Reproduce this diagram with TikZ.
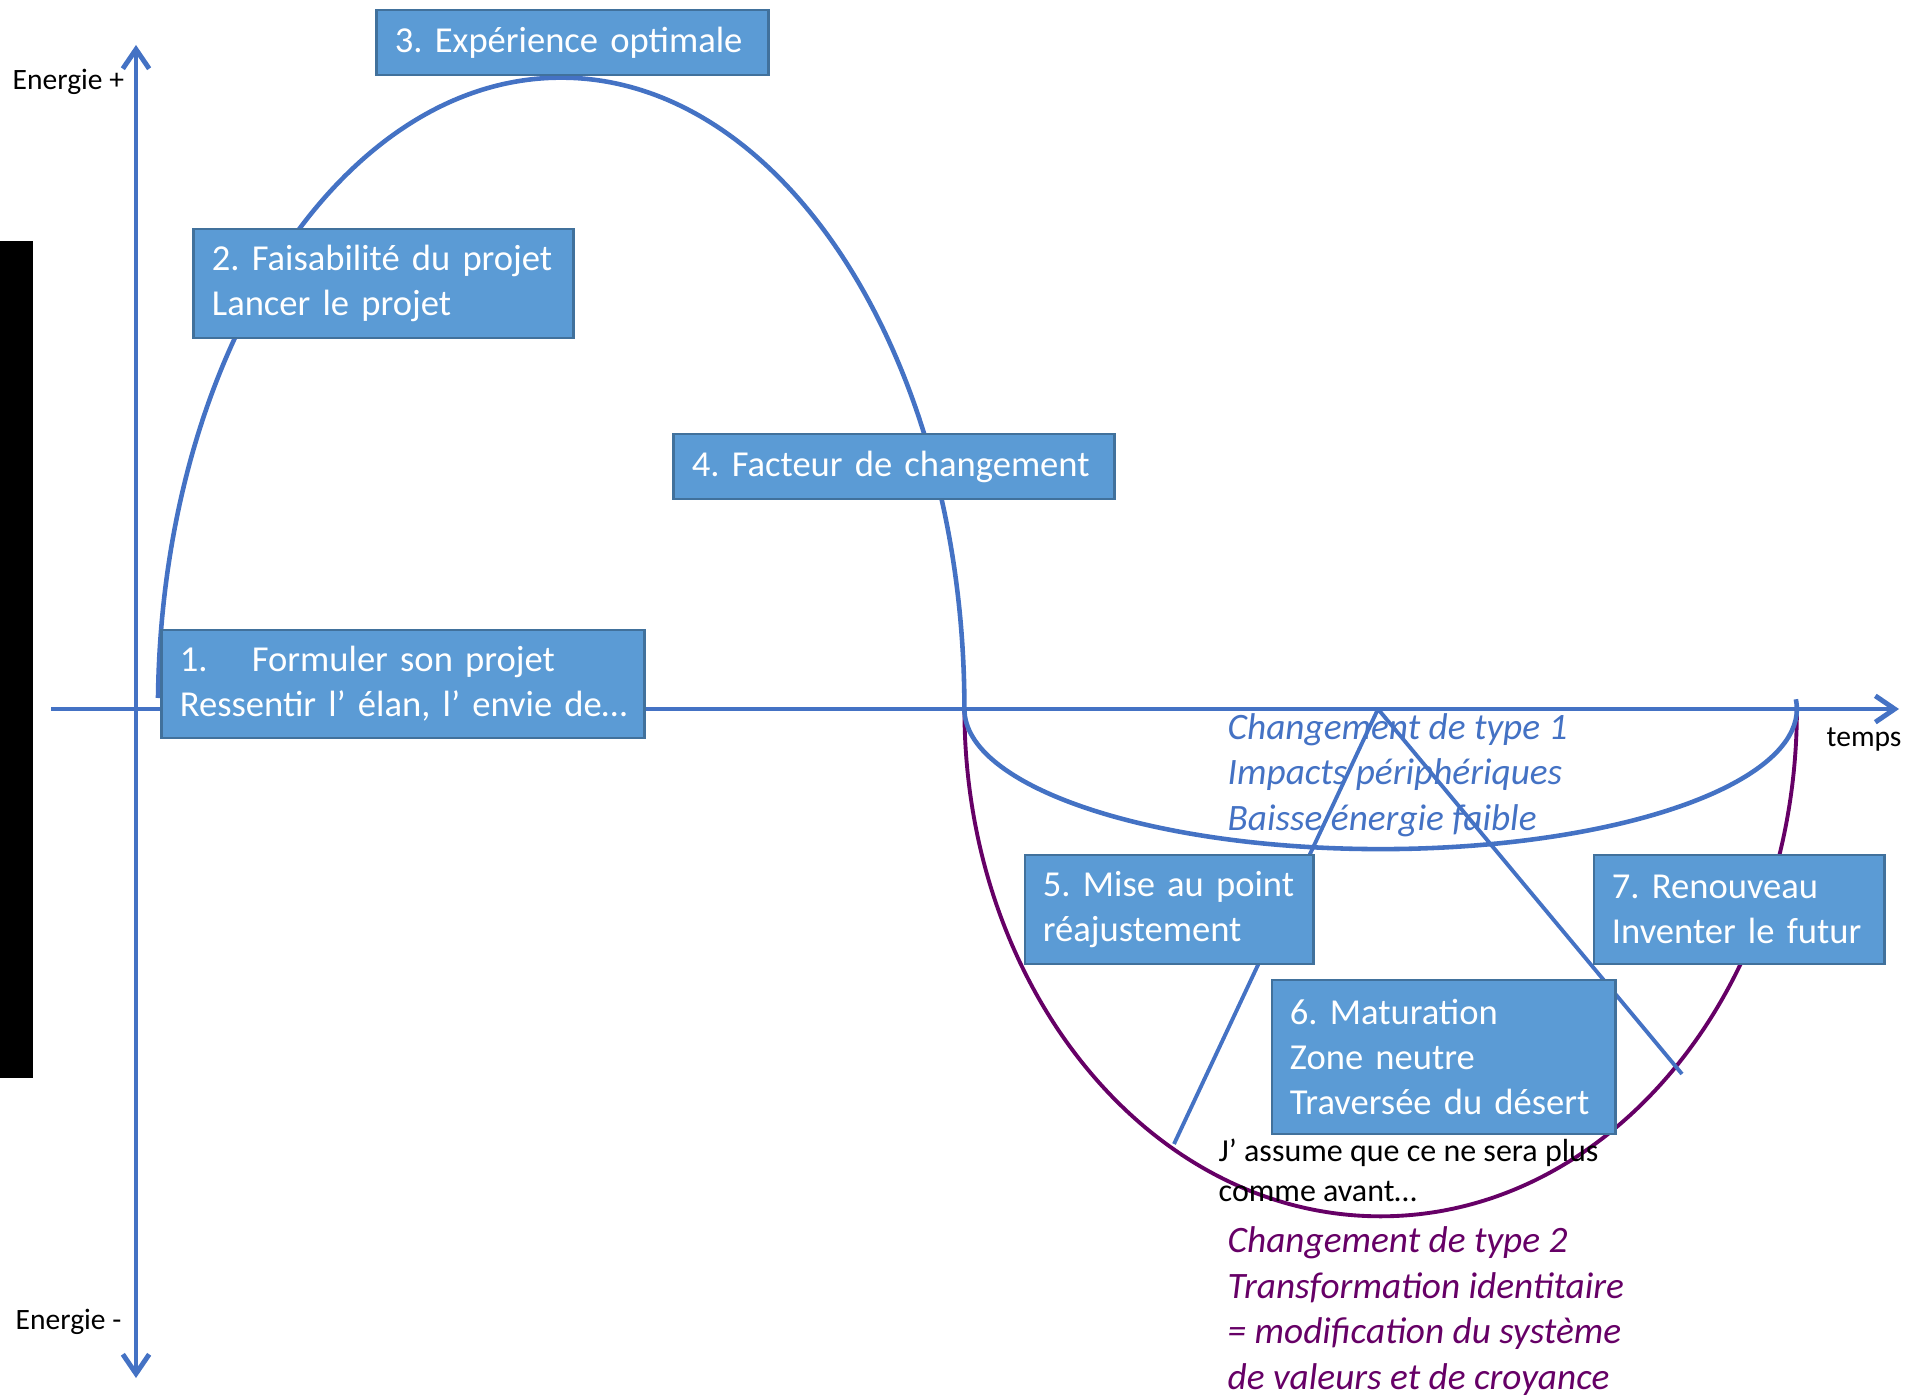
\documentclass[tikz,border=0pt]{standalone}
\usepackage{fontspec}
\setmainfont{Carlito}
\usetikzlibrary{arrows.meta}
\definecolor{axisblue}{RGB}{68,114,196}
\definecolor{stagefill}{RGB}{91,155,213}
\definecolor{stageline}{RGB}{65,113,156}
\definecolor{deeppurple}{RGB}{102,0,102}

\begin{document}
\frenchspacing
\begin{tikzpicture}[>={Straight Barb[length=5.5pt,width=7.5pt]}, x=0.01cm, y=-0.01cm,
		axisline/.style={draw=axisblue, line width=1.4pt},
		curve/.style={draw=axisblue, line width=1.3pt, line join=round},
		stage/.style={draw=stageline, fill=stagefill, line width=0.8pt, text=white,
			align=left, inner xsep=0.18cm, inner ysep=0pt,
			font=\fontsize{10.4}{12.8}\selectfont\frenchspacing},
		note/.style={inner sep=0pt, align=left, anchor=west,
			font=\fontsize{10.6}{13}\selectfont\itshape},
		axislabel/.style={inner sep=0pt, anchor=west, font=\fontsize{8.4}{10}\selectfont}]
		\useasboundingbox (0,0) rectangle (1921,1397);
		\fill (0,241) rectangle (33,1078);

		\coordinate (west) at (51,709);
		\coordinate (east) at (1899,709);
		\coordinate (top) at (136,45);
		\coordinate (bottom) at (136,1378);
		\draw[axisline,->] (west) -- (east);
		\draw[axisline,<->] (bottom) -- (top);

		\node[axislabel] (plus) at (12,82) {Energie +};
		\node[axislabel] (minus) at (15,1322) {Energie -};
		\node[axislabel] (time) at (1826,740) {temps};

		\draw[curve] (158,698) arc[start angle=179, end angle=0, x radius=4.03cm, y radius=6.31cm] coordinate (cross);
		\draw[curve, draw=deeppurple, line width=1.1pt] (cross) arc[start angle=180, end angle=360, x radius=4.16cm, y radius=5.07cm];
		\draw[curve] (cross) arc[start angle=180, end angle=364, x radius=4.16cm, y radius=1.40cm];

		\coordinate (apex) at (1378,709);
		\coordinate (leftfoot) at (1174,1144);
		\coordinate (rightfoot) at (1682,1074);
		\draw[curve, line width=1.1pt] (leftfoot) -- (apex) -- (rightfoot);

		\node[note, text=axisblue] (type1) at (1227,775) {Changement de type 1\\Impacts périphériques\\Baisse énergie faible};
		\node[note, text=deeppurple] (type2) at (1227,1311) {Changement de type 2\\Transformation identitaire\\= modification du système\\de valeurs et de croyance};
		\node[note, font=\fontsize{9.1}{11.4}\selectfont] (assume) at (1218,1170) {J’ assume que ce ne sera plus\\comme avant…};

		\node[stage, text width=4.46cm, minimum height=1.08cm] (formulate) at (403,684) {\makebox[0.72cm][l]{1.}Formuler son projet\\\mbox{Ressentir l’ élan, l’ envie de…}};
		\node[stage, text width=3.43cm, minimum height=1.09cm] (feasible) at (383.5,283.5) {2. Faisabilité du projet\\Lancer le projet};
		\node[stage, text width=3.55cm, minimum height=0.65cm] (optimal) at (572.5,42.5) {3. Expérience optimale};
		\node[stage, text width=4.04cm, minimum height=0.65cm] (factor) at (894,466.5) {4. Facteur de changement};
		\node[stage, text width=2.52cm, minimum height=1.09cm] (adjust) at (1169,909.5) {5. Mise au point\\réajustement};
		\node[stage, text width=3.07cm, minimum height=1.54cm] (mature) at (1443.5,1057) {6. Maturation\\Zone neutre\\Traversée du désert};
		\node[stage, text width=2.54cm, minimum height=1.09cm] (renew) at (1739,909.5) {7. Renouveau\\Inventer le futur};
	\end{tikzpicture}
\end{document}
